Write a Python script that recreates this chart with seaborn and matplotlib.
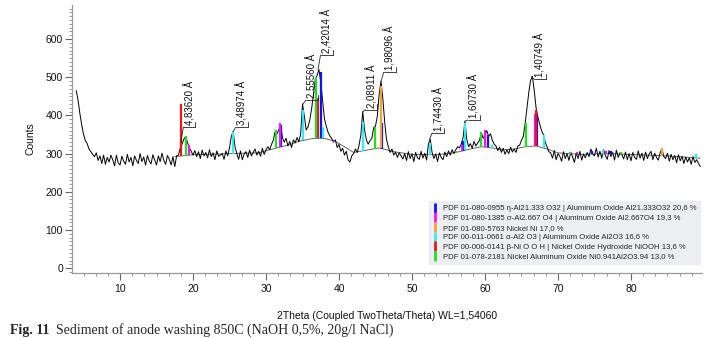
import numpy as np
import pandas as pd
import matplotlib
matplotlib.use("Agg")
import matplotlib.pyplot as plt
from matplotlib.ticker import MultipleLocator
from matplotlib.lines import Line2D
import seaborn as sns

# ---------------- data ----------------
theta_start = 4.0
theta_step = 0.25
counts = [
    465, 440, 405, 375, 350, 334, 326, 312, 305, 298, 292, 302, 282, 294, 274, 296, 272, 290, 278, 296,
    284, 268, 296, 276, 270, 293, 280, 272, 298, 278, 290, 268, 294, 282, 274, 300, 279, 291, 270, 295,
    281, 273, 297, 283, 270, 294, 279, 301, 282, 272, 295, 285, 270, 292, 266, 294, 296, 315, 325, 338,
    345, 328, 315, 306, 296, 308, 292, 305, 287, 309, 294, 303, 289, 310, 292, 302, 284, 307, 293, 296,
    300, 285, 307, 294, 316, 345, 358, 318, 300, 285, 307, 284, 299, 305, 290, 309, 294, 303, 312, 296,
    306, 293, 314, 298, 310, 318, 310, 324, 335, 358, 352, 362, 377, 342, 330, 340, 320, 332, 316, 336,
    328, 342, 331, 352, 430, 398, 362, 370, 388, 418, 455, 495, 505, 520, 488, 440, 392, 372, 356, 346,
    340, 330, 336, 316, 324, 306, 314, 296, 306, 283, 278, 294, 300, 312, 303, 322, 350, 410, 362, 336,
    325, 334, 340, 368, 372, 398, 455, 490, 445, 385, 338, 318, 303, 312, 296, 304, 290, 302, 294, 286,
    300, 282, 305, 287, 300, 279, 303, 289, 285, 306, 288, 301, 283, 325, 338, 303, 287, 299, 279, 302,
    290, 284, 304, 292, 307, 296, 310, 300, 310, 318, 315, 325, 342, 385, 338, 318, 326, 314, 332, 320,
    328, 335, 355, 340, 348, 360, 345, 352, 335, 325, 320, 308, 317, 303, 314, 298, 310, 300, 317, 304,
    312, 303, 320, 322, 335, 345, 378, 420, 460, 492, 502, 465, 420, 395, 378, 360, 350, 330, 318, 305,
    302, 288, 308, 284, 300, 293, 280, 305, 287, 300, 282, 304, 291, 277, 301, 287, 306, 283, 299, 289,
    303, 292, 312, 299, 294, 314, 291, 306, 288, 310, 295, 285, 308, 292, 303, 283, 309, 290, 302, 298,
    286, 304, 284, 300, 281, 303, 290, 285, 307, 288, 301, 282, 304, 287, 299, 306, 284, 301, 290, 283,
    302, 313, 292, 287, 301, 280, 298, 284, 295, 276, 297, 281, 293, 274, 291, 278, 289, 272, 292, 277,
    284, 274, 266,
]

bg_theta = [17.5, 20, 25, 29, 30.5, 33, 34.5, 36.5, 38, 39.5, 41, 42, 43.5, 45.5, 47.5, 50, 53, 55,
            56.5, 58, 59.5, 61, 62.5, 64, 65.5, 67, 68.5, 70, 73, 77, 81, 85, 89.5]
bg_counts = [292, 297, 300, 302, 310, 322, 332, 340, 340, 332, 315, 303, 308, 315, 305, 298, 297, 300,
             305, 312, 318, 315, 310, 312, 318, 320, 312, 302, 298, 300, 297, 294, 288]

phase_names = [
    "PDF 01-080-0955 \u03b7-Al21.333 O32 | Aluminum Oxide Al21.333O32 20,6 %",
    "PDF 01-080-1385 \u03c3-Al2.667 O4 | Aluminum Oxide Al2.667O4 19,3 %",
    "PDF 01-080-5763 Nickel Ni 17,0 %",
    "PDF 00-011-0661 \u03b1-Al2 O3 | Aluminum Oxide Al2O3 16,6 %",
    "PDF 00-006-0141 \u03b2-Ni O O H | Nickel Oxide Hydroxide NiOOH 13,6 %",
    "PDF 01-078-2181 Nickel Aluminum Oxide Ni0.941Al2O3.94 13,0 %",
]
phase_colors = ["#1010ff", "#ff10ff", "#f7a035", "#30ecf5", "#ee1515", "#20e020"]

blue_theta = [32.0, 37.6, 39.6, 45.85, 57.05, 60.4, 67.1, 74.6, 77.3]
blue_top = [375, 515, 330, 380, 333, 348, 400, 306, 306]
magenta_theta = [19.4, 31.85, 39.3, 56.8, 60.0, 66.8, 72.6, 76.6]
magenta_top = [322, 380, 330, 322, 362, 405, 305, 306]
orange_theta = [45.75, 84.3]
orange_top = [478, 312]
cyan_theta = [25.5, 35.1, 37.85, 43.3, 52.4, 57.3, 61.0, 68.1, 76.2, 88.9]
cyan_top = [356, 415, 370, 383, 327, 380, 322, 348, 310, 300]
red_theta = [18.3, 37.15, 66.95]
red_top = [430, 445, 415]
green_theta = [19.0, 31.4, 36.9, 44.9, 56.0, 59.4, 65.6, 71.6, 78.6]
green_top = [345, 362, 500, 370, 306, 357, 380, 305, 303]

peak_labels = ["4,83620 \u00c5", "3,48974 \u00c5", "2,55560 \u00c5", "2,42014 \u00c5", "2,08911 \u00c5",
               "1,98096 \u00c5", "1,74430 \u00c5", "1,60730 \u00c5", "1,40749 \u00c5"]
peak_theta = [18.33, 25.50, 35.09, 37.12, 43.27, 45.77, 52.41, 57.27, 66.36]
peak_apex = [330, 358, 430, 520, 410, 490, 338, 385, 502]
peak_bracket = [369, 369, 440, 558, 415, 513, 354, 388, 495]

# ---------------- figure ----------------
sns.set_theme(style="ticks")
plt.rcParams["font.family"] = ["Liberation Sans", "DejaVu Sans"]

fig = plt.figure(figsize=(7.15, 3.38), dpi=100)
ax = fig.add_axes([0.1007, 0.192, 0.8811, 0.793])

theta = theta_start + theta_step * np.arange(len(counts))
df = pd.DataFrame({"2theta": theta, "counts": counts})
sns.lineplot(data=df, x="2theta", y="counts", ax=ax, color="black", lw=0.7, zorder=3)
ax.plot(bg_theta, bg_counts, color="#505050", lw=0.6, zorder=2)

stick_sets = [(blue_theta, blue_top), (magenta_theta, magenta_top), (orange_theta, orange_top),
              (cyan_theta, cyan_top), (red_theta, red_top), (green_theta, green_top)]
for (th, top), col in zip(stick_sets, phase_colors):
    base = np.interp(th, bg_theta, bg_counts)
    ax.vlines(th, base, top, colors=col, lw=1.6, zorder=4)

# d-spacing labels with leader lines
for lab, th, ap, by in zip(peak_labels, peak_theta, peak_apex, peak_bracket):
    ax.plot([th, th + 0.35], [ap, by], color="#222222", lw=0.6, zorder=5)
    ax.plot([th + 0.35, th + 2.0], [by, by], color="#222222", lw=0.6, zorder=5)
    ax.plot([th + 2.0, th + 2.0], [by, by + 14], color="#222222", lw=0.6, zorder=5)
    ax.text(th + 1.2, by + 5, lab, rotation=90, ha="center", va="bottom", fontsize=7, color="#111111")

ax.set_xlim(3.42, 89.73)
ax.set_ylim(-13, 689)
sns.despine(ax=ax)
for s in ("left", "bottom"):
    ax.spines[s].set_color("#9a9a9a")
    ax.spines[s].set_linewidth(0.9)

ax.xaxis.set_major_locator(MultipleLocator(10))
ax.xaxis.set_minor_locator(MultipleLocator(10 / 6))
ax.yaxis.set_major_locator(MultipleLocator(100))
ax.yaxis.set_minor_locator(MultipleLocator(10))
ax.set_xticks([10, 20, 30, 40, 50, 60, 70, 80])
ax.tick_params(axis="both", which="major", length=5, width=0.8, color="#666666",
               labelsize=7.5, labelcolor="#111111")
ax.tick_params(axis="x", which="major", pad=3)
ax.tick_params(axis="y", which="major", pad=1.5)
ax.tick_params(axis="both", which="minor", length=2.5, width=0.6, color="#888888")

ax.set_xlabel("2Theta (Coupled TwoTheta/Theta) WL=1,54060", fontsize=7.5, labelpad=12, color="#111111")
ax.set_ylabel("Counts", fontsize=7.5, labelpad=7, color="#111111")

handles = [Line2D([0], [0], color=c, marker="|", linestyle="none", markersize=7, markeredgewidth=2)
           for c in phase_colors]
leg = ax.legend(handles, phase_names, loc="lower right", bbox_to_anchor=(0.997, 0.034),
                borderaxespad=0, fontsize=5.6, frameon=True, fancybox=False, framealpha=1,
                facecolor="#eceef1", edgecolor="#eceef1", handlelength=0.6, handletextpad=0.8,
                labelspacing=0.28, borderpad=0.45)
leg.set_zorder(6)

fig.text(0.014, 0.004, "Fig. 11", fontsize=10, fontweight="bold", va="bottom", ha="left",
         family=["Liberation Serif", "DejaVu Serif"])
fig.text(0.078, 0.004, "Sediment of anode washing 850C (NaOH 0,5%, 20g/l NaCl)", fontsize=10,
         va="bottom", ha="left", family=["Liberation Serif", "DejaVu Serif"])

fig.savefig("out.png", dpi=100)
